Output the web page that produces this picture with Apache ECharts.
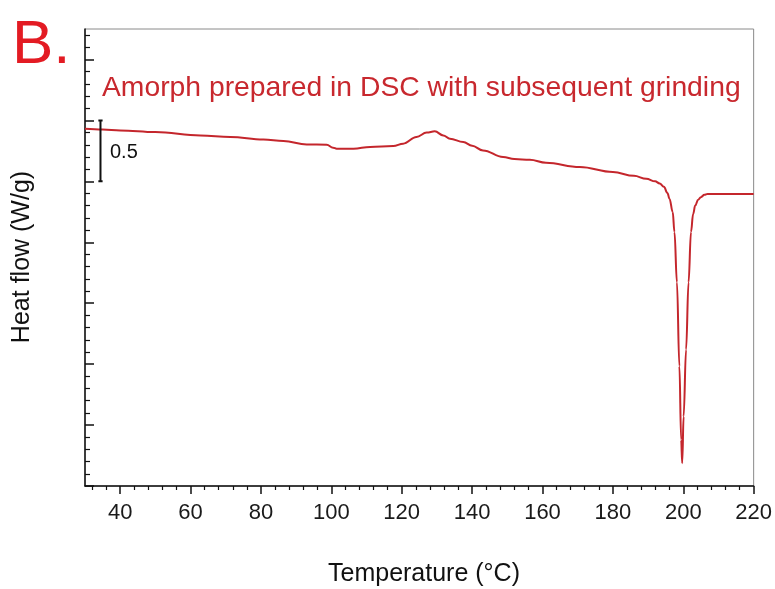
<!DOCTYPE html>
<html>
<head>
<meta charset="utf-8">
<title>DSC – Amorph prepared in DSC with subsequent grinding</title>
<script src="https://cdn.jsdelivr.net/npm/echarts@6/dist/echarts.min.js"></script>
<style>
  html, body { margin: 0; padding: 0; background: #fff; }
  #chart { width: 775px; height: 589px; }
</style>
</head>
<body>
<div id="chart"></div>
<script>
// temperature (°C) and heat flow (W/g, arbitrary offset)
var temps = [30, 35, 40, 50, 62.8, 71.3, 80.7, 86.4, 93, 98.7, 100.5, 101.5, 106.3, 111,
  117.6, 120.4, 124.2, 127.1, 129.4, 131.8, 133.7, 137.5, 140, 143.1, 148.8, 152, 156.4,
  161, 170.6, 180, 186, 189.5, 192, 193.3, 194.5, 195.5, 196.1, 197, 197.5, 198.2, 198.9,
  199.4, 199.7, 200.1, 200.8, 201.5, 202.2, 202.8, 203.4, 204.2, 205, 206, 206.9, 210, 220]
var heatFlow = [2.932, 2.926, 2.918, 2.904, 2.877, 2.864, 2.844, 2.831, 2.803, 2.801, 2.776,
  2.768, 2.768, 2.782, 2.790, 2.809, 2.864, 2.900, 2.910, 2.877, 2.850, 2.823, 2.792, 2.754,
  2.699, 2.683, 2.677, 2.652, 2.617, 2.576, 2.545, 2.521, 2.500, 2.483, 2.455, 2.405, 2.356,
  2.249, 2.084, 1.672, 0.983, 0.379, 0.187, 0.571, 1.120, 1.672, 2.084, 2.232, 2.301, 2.348,
  2.370, 2.389, 2.397, 2.397, 2.397]

var xMajorTicks = [40, 60, 80, 100, 120, 140, 160, 180, 200, 220]
var yMajorTicks = [0, 0.5, 1, 1.5, 2, 2.5, 3, 3.5]

// 0.5 W/g scale bar
var scaleBarT = 34.4
var scaleBarRange = [2.5, 3.0]
var scaleBarCap = 0.6

var xMinorTicks = []
for (var t = 32; t < 220; t += 4) {
  if (t % 20 !== 0) xMinorTicks.push(t)
}
var yMinorTicks = []
for (var k = 1; k <= 37; k++) {
  if (k % 5 !== 0) yMinorTicks.push(k / 10)
}

var curve = temps.map(function (v, i) { return [v, heatFlow[i]] })
var bar = [
  [scaleBarT - scaleBarCap, scaleBarRange[1]], [scaleBarT + scaleBarCap, scaleBarRange[1]],
  [scaleBarT, scaleBarRange[1]], [scaleBarT, scaleBarRange[0]],
  [scaleBarT - scaleBarCap, scaleBarRange[0]], [scaleBarT + scaleBarCap, scaleBarRange[0]]
]

var font = '"Liberation Sans", Arial, sans-serif'
var chart = echarts.init(document.getElementById('chart'))

var option = {
  animation: false,
  grid: {
    left: 85,
    right: 21,
    top: 29,
    bottom: 103,
    show: true,
    borderColor: '#8a8a8a',
    borderWidth: 1
  },
  xAxis: [
    {
      type: 'value',
      min: 30,
      max: 220,
      position: 'bottom',
      axisLine: { show: true, lineStyle: { color: '#111', width: 1.5 } },
      axisTick: { show: true, customValues: xMajorTicks, length: 8, lineStyle: { color: '#111', width: 1.5 } },
      axisLabel: {
        customValues: xMajorTicks,
        margin: 16,
        fontSize: 22,
        fontFamily: font,
        color: '#1a1a1a'
      },
      splitLine: { show: false }
    },
    {
      type: 'value',
      min: 30,
      max: 220,
      position: 'bottom',
      axisLine: { show: false },
      axisTick: { show: true, customValues: xMinorTicks, length: 4, lineStyle: { color: '#111', width: 1.2 } },
      axisLabel: { show: false },
      splitLine: { show: false }
    }
  ],
  yAxis: [
    {
      type: 'value',
      min: 0,
      max: 3.75,
      position: 'left',
      axisLine: { show: true, lineStyle: { color: '#111', width: 1.5 } },
      axisTick: { show: true, inside: true, customValues: yMajorTicks, length: 9, lineStyle: { color: '#111', width: 1.5 } },
      axisLabel: { show: false },
      splitLine: { show: false }
    },
    {
      type: 'value',
      min: 0,
      max: 3.75,
      position: 'left',
      axisLine: { show: false },
      axisTick: { show: true, inside: true, customValues: yMinorTicks, length: 5, lineStyle: { color: '#111', width: 1.2 } },
      axisLabel: { show: false },
      splitLine: { show: false }
    }
  ],
  series: [
    {
      name: 'Heat flow',
      type: 'line',
      data: curve,
      showSymbol: false,
      smooth: 0.4,
      smoothMonotone: 'x',
      lineStyle: { color: '#c4262c', width: 2 },
      z: 3
    },
    {
      name: 'scale',
      type: 'line',
      data: bar,
      showSymbol: false,
      lineStyle: { color: '#111', width: 2 },
      z: 4
    }
  ],
  graphic: [
    {
      type: 'text',
      x: 12,
      y: 46,
      style: { text: 'B.', font: '62px ' + font, fill: '#e31b23', verticalAlign: 'middle' }
    },
    {
      type: 'text',
      x: 102,
      y: 88,
      style: {
        text: 'Amorph prepared in DSC with subsequent grinding',
        font: '28.3px ' + font,
        fill: '#c8282e',
        verticalAlign: 'middle'
      }
    },
    {
      type: 'text',
      x: 110,
      y: 152,
      style: { text: '0.5', font: '20px ' + font, fill: '#111', verticalAlign: 'middle' }
    },
    {
      type: 'text',
      x: 22,
      y: 257,
      rotation: Math.PI / 2,
      style: { text: 'Heat flow (W/g)', font: '25px ' + font, fill: '#111', align: 'center', verticalAlign: 'middle' }
    },
    {
      type: 'text',
      x: 424,
      y: 574,
      style: { text: 'Temperature (°C)', font: '25px ' + font, fill: '#111', align: 'center', verticalAlign: 'middle' }
    },
    {
      // bottom edge of the previous panel's axis title, cut off at the top
      type: 'text',
      x: 418,
      y: -14,
      style: { text: 'Temperature (°C)', font: '25px ' + font, fill: '#444', align: 'center', verticalAlign: 'middle' }
    }
  ]
}

chart.setOption(option)
</script>
</body>
</html>
